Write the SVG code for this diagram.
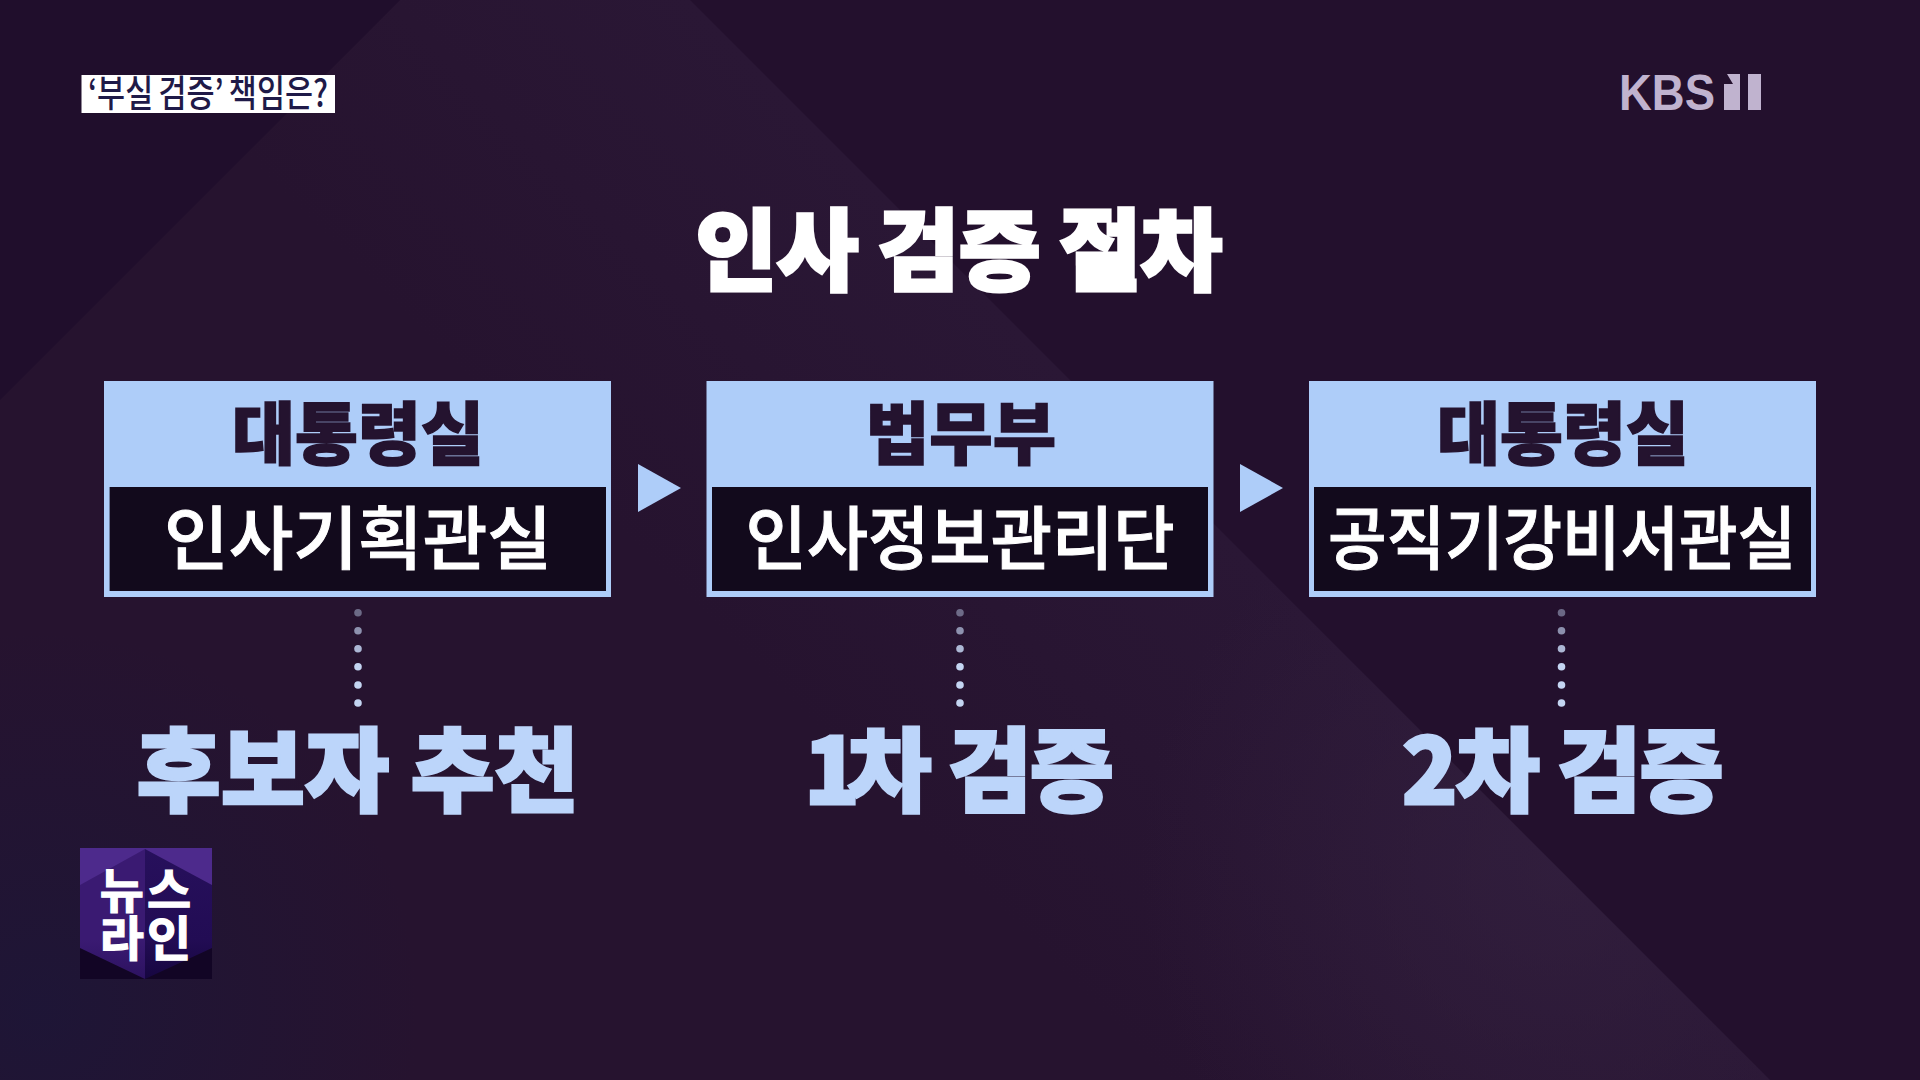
<svg xmlns="http://www.w3.org/2000/svg" width="1920" height="1080" viewBox="0 0 1920 1080">
<defs>
<style>
text{font-family:"Noto Sans CJK KR","Noto Sans",sans-serif;text-anchor:middle}
.box{fill:#aecdf9}
.inner{fill:#120a1c}
.head{font-size:68px;font-weight:900;fill:#24132f;stroke:#24132f;stroke-width:1.5px}
.sub{font-size:69px;font-weight:500;fill:#fff;stroke:#fff;stroke-width:1px}
.step{font-size:91px;font-weight:900;fill:#bcd5fa;stroke:#bcd5fa;stroke-width:3px}
.logotxt{font-size:48px;font-weight:700;fill:#fff;stroke:#fff;stroke-width:1.2px;letter-spacing:3px}
.dot{fill:#c4d5f2}
.arrow{fill:#aecdf9}
.kbsmark{fill:#c0b3cf}
</style>
<linearGradient id="band" gradientUnits="userSpaceOnUse" x1="1100" y1="410" x2="800" y2="710"><stop offset="0" stop-color="#2a1735"/><stop offset="1" stop-color="#26132f"/></linearGradient>
<radialGradient id="glow" gradientUnits="userSpaceOnUse" cx="1560" cy="870" r="420"><stop offset="0" stop-color="#33203f" stop-opacity=".75"/><stop offset="1" stop-color="#33203f" stop-opacity="0"/></radialGradient>
<radialGradient id="navy" gradientUnits="userSpaceOnUse" cx="40" cy="1010" r="380"><stop offset="0" stop-color="#1c1638" stop-opacity=".8"/><stop offset="1" stop-color="#1c1638" stop-opacity="0"/></radialGradient>
<linearGradient id="hexL" x1="0" y1="0" x2="0" y2="1"><stop offset="0" stop-color="#3a1a72"/><stop offset=".7" stop-color="#3a1a72"/><stop offset="1" stop-color="#2c1260"/></linearGradient>
<linearGradient id="hexR" x1="0" y1="0" x2="0" y2="1"><stop offset="0" stop-color="#27105c"/><stop offset=".7" stop-color="#220c54"/><stop offset="1" stop-color="#160640"/></linearGradient>
<g id="dots"><circle class="dot" cy="612.7" r="3.8" opacity=".45"/><circle class="dot" cy="630.7" r="3.8" opacity=".65"/><circle class="dot" cy="648.7" r="3.8" opacity=".85"/><circle class="dot" cy="666.7" r="3.8"/><circle class="dot" cy="685" r="3.8"/><circle class="dot" cy="703" r="3.8"/></g>
</defs>
<rect width="1920" height="1080" fill="#23102d"/>
<polygon points="690,0 1770,1080 0,1080 0,400 400,0" fill="url(#band)"/>
<polygon points="1000,310 1770,1080 1000,1080" fill="url(#glow)"/>
<polygon points="0,0 400,0 0,400" fill="#200e2c"/>
<rect y="630" width="420" height="450" fill="url(#navy)"/>
<g id="tag"><rect x="81.5" y="75" width="253.5" height="38" fill="#fff"/><text x="208" y="107" font-size="37" font-weight="500" fill="#1f1a48" textLength="240" lengthAdjust="spacingAndGlyphs" style="word-spacing:-2px">‘부실 검증’ 책임은?</text></g>
<g id="kbs"><text x="1667" y="110" font-size="50" font-weight="700" class="kbsmark" style="font-family:'Liberation Sans',sans-serif" textLength="96" lengthAdjust="spacingAndGlyphs">KBS</text><path class="kbsmark" d="M1724 84L1733 84L1727 74L1740 74V110H1724Z"/><rect class="kbsmark" x="1748" y="74" width="13" height="36"/></g>
<g id="title"><text x="959" y="283" font-size="89" font-weight="900" fill="#fff" stroke="#fff" stroke-width="3" textLength="527" lengthAdjust="spacing">인사 검증 절차</text></g>
<g id="n1"><rect class="box" x="104" y="381" width="507" height="216"/><rect class="inner" x="109.6" y="487" width="496.4" height="104"/><text class="head" x="358" y="459" textLength="252" lengthAdjust="spacingAndGlyphs">대통령실</text><text class="sub" x="358" y="564" textLength="388" lengthAdjust="spacingAndGlyphs">인사기획관실</text></g>
<g id="n2"><rect class="box" x="706.5" y="381" width="507" height="216"/><rect class="inner" x="712" y="487" width="496" height="104"/><text class="head" x="961" y="459" textLength="190" lengthAdjust="spacingAndGlyphs">법무부</text><text class="sub" x="960" y="564" textLength="429" lengthAdjust="spacingAndGlyphs">인사정보관리단</text></g>
<g id="n3"><rect class="box" x="1309" y="381" width="507" height="216"/><rect class="inner" x="1314" y="487" width="497" height="104"/><text class="head" x="1563" y="459" textLength="252" lengthAdjust="spacingAndGlyphs">대통령실</text><text class="sub" x="1562" y="564" textLength="468" lengthAdjust="spacingAndGlyphs">공직기강비서관실</text></g>
<g id="connectors"><polygon class="arrow" points="638,464 681,488 638,512"/><polygon class="arrow" points="1240,464 1283,488 1240,512"/><use href="#dots" x="358"/><use href="#dots" x="960"/><use href="#dots" x="1561.5"/></g>
<g id="s1"><text class="step" x="358" y="804" style="letter-spacing:.5px">후보자 추천</text></g>
<g id="s2"><text class="step" x="958" y="804" style="letter-spacing:-2px"><tspan style="letter-spacing:-12px">1</tspan>차 검증</text></g>
<g id="s3"><text class="step" x="1562" y="804" style="letter-spacing:-1.5px">2차 검증</text></g>
<g id="logo"><rect x="80" y="848" width="132" height="66" fill="#4d2a8c"/><rect x="80" y="914" width="132" height="65" fill="#120525"/><polygon points="145,849 145,979 80,948 80,885" fill="url(#hexL)"/><polygon points="145,849 212,885 212,948 145,979" fill="url(#hexR)"/><text class="logotxt" y="908"><tspan x="147">뉴스</tspan><tspan x="147" y="956">라인</tspan></text></g>
</svg>
